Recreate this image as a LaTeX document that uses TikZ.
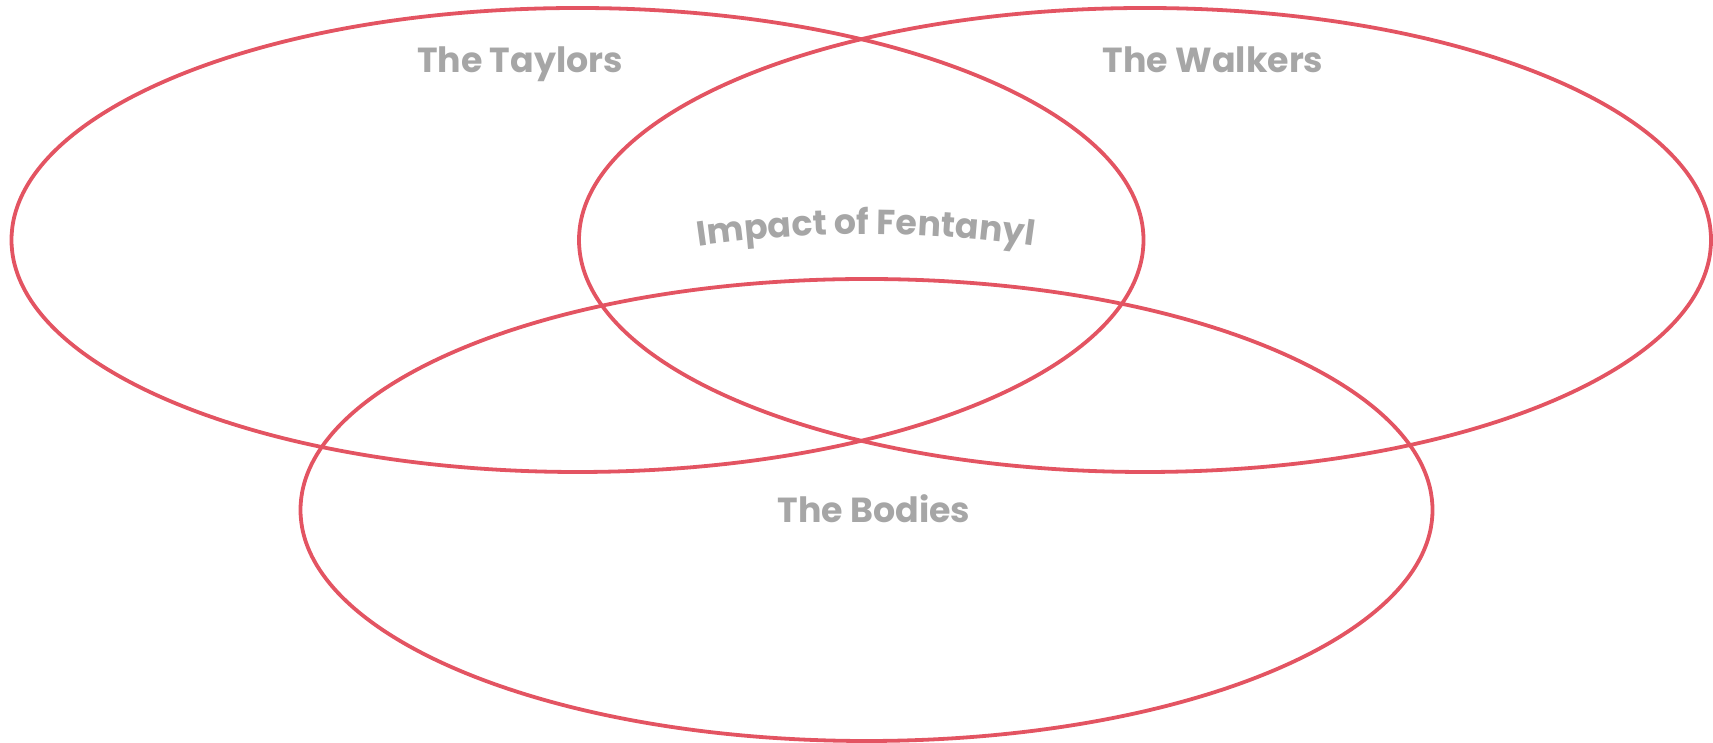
\documentclass[tikz,border=0pt]{standalone}
\usepackage{fontspec}
\setmainfont{Poppins}
\usetikzlibrary{decorations.text}
\definecolor{vennred}{HTML}{E35462}
\definecolor{labelgray}{HTML}{A6A6A6}
\tikzset{
  venn/.style={draw=vennred, line width=1.9pt},
  lbl/.style={text=labelgray, font=\fontsize{17.4}{20}\selectfont\bfseries, inner sep=0pt, anchor=base}
}
\begin{document}
\begin{tikzpicture}[x=0.5pt,y=0.5pt]
\useasboundingbox (0,0) rectangle (1713,743);
% circles
\draw[venn] (577.5,503) ellipse [x radius=566, y radius=232];
\draw[venn] (1145,503) ellipse [x radius=566, y radius=232];
\draw[venn] (866.5,233) ellipse [x radius=566, y radius=231];
% labels
\node[lbl] (taylors) at (520,670) {The Taylors};
\node[lbl] (walkers) at (1213,670) {The Walkers};
\node[lbl] (bodies) at (874,220) {The Bodies};
\path[decorate, decoration={text along path, text align=center,
  text={|\fontsize{17.4}{20}\selectfont\bfseries\color{labelgray}|Impact of Fentanyl}}]
  (866,-659) ++(105:1168) arc[start angle=105, end angle=75, radius=1168];
\end{tikzpicture}
\end{document}
